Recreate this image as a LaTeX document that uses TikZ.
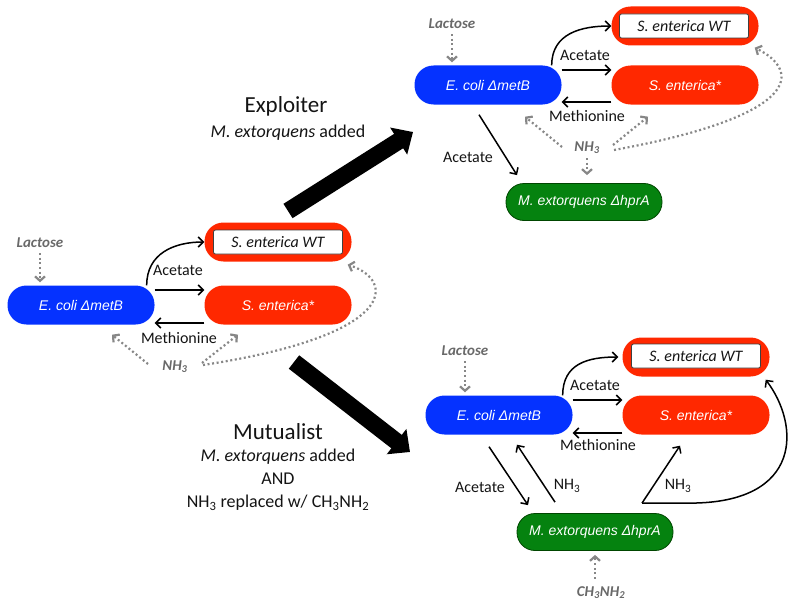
\documentclass[tikz,border=0pt]{standalone}
\usepackage{fontspec}
\setmainfont{Carlito}
\newfontfamily\arialf{Liberation Sans}
\usetikzlibrary{arrows.meta}
\definecolor{cblue}{RGB}{5,50,255}
\definecolor{cred}{RGB}{255,40,0}
\definecolor{cgreen}{RGB}{5,130,15}
\definecolor{cgreenb}{RGB}{0,70,0}
\definecolor{cgraytxt}{RGB}{105,105,105}
\definecolor{cgrayln}{RGB}{135,135,135}
\definecolor{ctxt}{RGB}{20,20,20}
\tikzset{
  pill/.style={rounded corners=19pt, minimum width=147pt, minimum height=39pt, inner sep=0pt,
    font=\arialf\itshape\fontsize{14}{16}\selectfont, text=white},
  bluepill/.style={pill, fill=cblue},
  redpill/.style={pill, fill=cred},
  greenpill/.style={pill, fill=cgreen, draw=cgreenb, line width=0.8pt, minimum width=156pt, minimum height=37pt, rounded corners=18pt},
  wtbox/.style={draw=black!75, line width=0.8pt, fill=white, rounded corners=2pt, minimum width=129pt, minimum height=24pt, inner sep=0pt,
    font=\itshape\fontsize{16}{18}\selectfont, text=ctxt},
  lbl/.style={inner sep=0pt, font=\fontsize{16}{18}\selectfont, text=ctxt},
  glbl/.style={inner sep=0pt, font=\bfseries\itshape\fontsize{15}{17}\selectfont, text=cgraytxt},
  arr/.style={draw=black, line width=1.5pt, -{Straight Barb[length=5pt,width=10pt]}},
  dots/.style={draw=cgrayln, line width=2.2pt, dash pattern=on 2pt off 2.6pt, -{Straight Barb[length=4.5pt,width=10pt]}},
  bigarr/.style={draw=black, line width=17pt, -{Triangle[length=17pt,width=31pt]}},
  head/.style={inner sep=0pt, font=\fontsize{23}{25}\selectfont, text=ctxt},
  sub/.style={inner sep=0pt, font=\fontsize{18}{20}\selectfont, text=ctxt}
}
\begin{document}
\begin{tikzpicture}[x=1pt,y=-1pt]
\useasboundingbox (0,0) rectangle (800,610);

% ---------------- left cluster ----------------
\node[bluepill] (Leco) at (81,305) {E. coli ΔmetB};
\node[redpill] (LWT) at (278,242) {};
\node[wtbox] (LWTi) at (278,242) {S. enterica WT};
\node[redpill] (LSs) at (278,305) {S. enterica*};
\node[glbl] (Llac) at (40,243) {Lactose};
\node[lbl] (Lac1) at (178,270) {Acetate};
\node[lbl] (Lme1) at (179,338) {Methionine};
\node[glbl] (LNH) at (175,367) {NH\textsubscript{3}};
\draw[dots, shorten <=5pt, shorten >=3pt] (Llac.south) -- (Llac.south |- Leco.north);
\draw[arr] ([xshift=-8pt]Leco.north east) .. controls +(0,-32) and +(-30,0) .. (LWT.west);
\draw[arr] ([yshift=15pt]Leco.east) -- ([yshift=15pt]LSs.west);
\draw[arr] ([yshift=-18pt]LSs.west) -- ([yshift=-18pt]Leco.east);
\draw[dots] ([xshift=-27pt,yshift=3pt]LNH.center) -- ([xshift=31pt,yshift=-10pt]Leco.south);
\draw[dots] ([xshift=27pt,yshift=4pt]LNH.center) -- ([xshift=-40pt,yshift=-10pt]LSs.south);
\draw[dots] ([xshift=28pt,yshift=2pt]LNH.center) .. controls (400,335) and (395,280) .. ([xshift=-4pt,yshift=-3pt]LWT.south east);

% ---------------- big arrows and captions ----------------
\coordinate (E1) at (288,211);
\coordinate (E2) at (413,132);
\draw[bigarr] (E1) -- (E2);
\node[head] (Exh) at (286,106) {Exploiter};
\node[sub] (Exs) at (288,133) {\textit{M. extorquens} added};

\coordinate (M1) at (294,362);
\coordinate (M2) at (410,452);
\draw[bigarr] (M1) -- (M2);
\node[head] (Muh) at (278,432) {Mutualist};
\node[sub] (Mus1) at (278,457) {\textit{M. extorquens} added};
\node[sub] (Mus2) at (278,479) {AND};
\node[sub] (Mus3) at (278,503) {NH\textsubscript{3} replaced w/ CH\textsubscript{3}NH\textsubscript{2}};

% ---------------- top-right cluster ----------------
\node[bluepill] (Teco) at (488,85) {E. coli ΔmetB};
\node[redpill] (TWT) at (685,26) {};
\node[wtbox] (TWTi) at (684,26) {S. enterica WT};
\node[redpill] (TSs) at (685,85) {S. enterica*};
\node[greenpill] (Tgr) at (584,202) {M. extorquens ΔhprA};
\node[glbl] (Tlac) at (452,24) {Lactose};
\node[lbl] (Tac1) at (585,55) {Acetate};
\node[lbl] (Tme1) at (587,116) {Methionine};
\node[lbl] (Tac2) at (468,157) {Acetate};
\node[glbl] (TNH) at (587,148) {NH\textsubscript{3}};
\draw[dots, shorten <=5pt, shorten >=3pt] (Tlac.south) -- (Tlac.south |- Teco.north);
\draw[arr] ([xshift=-10pt]Teco.north east) .. controls +(0,-32) and +(-30,0) .. (TWT.west);
\draw[arr] ([yshift=15pt]Teco.east) -- ([yshift=15pt]TSs.west);
\draw[arr] ([yshift=-17pt]TSs.west) -- ([yshift=-17pt]Teco.east);
\draw[arr] ([xshift=-9pt,yshift=-10pt]Teco.south) -- ([xshift=-67pt,yshift=8pt]Tgr.north);
\draw[dots] ([xshift=-25pt,yshift=1pt]TNH.center) -- ([xshift=37pt,yshift=-12pt]Teco.south);
\draw[dots] ([xshift=26pt,yshift=3pt]TNH.center) -- ([xshift=-37pt,yshift=-12pt]TSs.south);
\draw[dots] ([yshift=-10pt]TNH.center) -- ([yshift=8pt]TNH.center |- Tgr.north);
\draw[dots] ([xshift=27pt,yshift=-2pt]TNH.center) .. controls (805,115) and (800,70) .. ([xshift=-4pt,yshift=-2pt]TWT.south east);

% ---------------- bottom-right cluster ----------------
\node[bluepill] (Beco) at (499,415) {E. coli ΔmetB};
\node[redpill] (BWT) at (696,357) {};
\node[wtbox] (BWTi) at (696,356) {S. enterica WT};
\node[redpill] (BSs) at (696,415) {S. enterica*};
\node[greenpill] (Bgr) at (595,532) {M. extorquens ΔhprA};
\node[glbl] (Blac) at (465,351) {Lactose};
\node[lbl] (Bac1) at (595,385) {Acetate};
\node[lbl] (Bme1) at (598,445) {Methionine};
\node[lbl] (Bac2) at (480,487) {Acetate};
\node[lbl] (Bnh1) at (567,486) {NH\textsubscript{3}};
\node[lbl] (Bnh2) at (678,486) {NH\textsubscript{3}};
\node[glbl] (Bch) at (601,593) {CH\textsubscript{3}NH\textsubscript{2}};
\coordinate (Bst) at ([xshift=47pt,yshift=10pt]Bgr.north);
\draw[dots, shorten <=5pt, shorten >=3pt] (Blac.south) -- (Blac.south |- Beco.north);
\draw[arr] ([xshift=-10pt]Beco.north east) .. controls +(0,-32) and +(-30,0) .. ([xshift=-4pt]BWT.west);
\draw[arr] ([yshift=15pt]Beco.east) -- ([yshift=15pt]BSs.west);
\draw[arr] ([yshift=-18pt]BSs.west) -- ([yshift=-18pt]Beco.east);
\draw[arr] ([xshift=-10pt,yshift=-12pt]Beco.south) -- ([xshift=-67pt,yshift=8pt]Bgr.north);
\draw[arr] ([xshift=-40pt,yshift=11pt]Bgr.north) -- ([xshift=18pt,yshift=-10pt]Beco.south);
\draw[arr] (Bst) -- ([xshift=-16pt,yshift=-11pt]BSs.south);
\draw[arr] (Bst) -- ([xshift=48pt]Bst) .. controls (803,503) and (800,425) .. ([xshift=-4pt,yshift=-3pt]BWT.south east);
\draw[dots, shorten >=4pt] ([yshift=8pt]Bch.north -| Bgr.south) -- (Bgr.south);
\end{tikzpicture}
\end{document}
